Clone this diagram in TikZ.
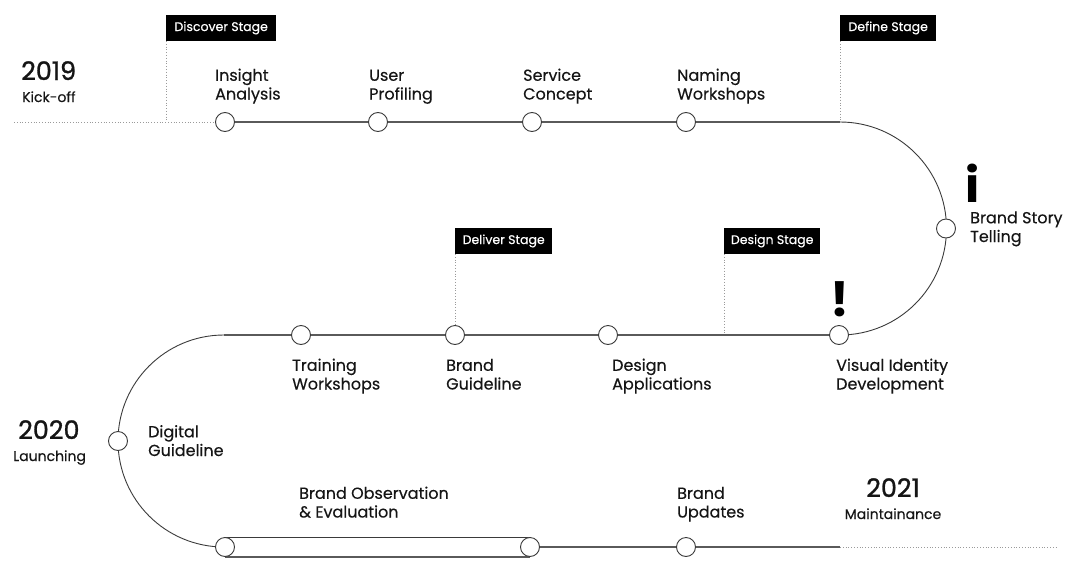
\documentclass[tikz,border=0pt]{standalone}
\usepackage{fontspec}
\setmainfont{Poppins}[FakeBold=0.35]
\newfontfamily\markfont{Poppins}
\newfontfamily\yearfont{Poppins}[FakeBold=1.1]
\usetikzlibrary{backgrounds}
\definecolor{ln}{HTML}{5A5A5A}
\definecolor{arcc}{HTML}{3A3A3A}
\definecolor{dt}{HTML}{9A9A9A}
\definecolor{tx}{HTML}{151515}
\begin{document}
\begin{tikzpicture}[x=1pt,y=-1pt,
  dot/.style={circle,draw=arcc,fill=white,line width=0.9pt,minimum size=19pt,inner sep=0pt},
  track/.style={draw=ln,line width=1.2pt},
  arctrack/.style={draw=arcc,line width=0.9pt},
  guide/.style={draw=dt,line width=0.8pt,dotted},
  stagebox/.style={fill=black,text=white,anchor=north west,inner sep=0pt,minimum height=25.5pt,font=\fontsize{12.5}{13}\selectfont},
  lbl/.style={anchor=base west,align=left,inner sep=0pt,text=tx,font=\fontsize{16}{18.7}\selectfont},
  yr/.style={anchor=base west,inner sep=0pt,text=tx,font=\yearfont\fontsize{25.5}{26}\selectfont},
  yrsub/.style={anchor=base west,inner sep=0pt,text=tx,font=\fontsize{14}{15}\selectfont},
  glyph/.style={anchor=base,inner sep=0pt,text=black,font=\markfont\bfseries\fontsize{48}{48}\selectfont}
]
\useasboundingbox (0,0) rectangle (1080,576);

% milestone circles
\node[dot] (c1) at (225,122) {};
\node[dot] (c2) at (378,122) {};
\node[dot] (c3) at (532,122) {};
\node[dot] (c4) at (686,122) {};
\node[dot] (c5) at (946,228.5) {};
\node[dot] (c6) at (839,335) {};
\node[dot] (c7) at (608,335) {};
\node[dot] (c8) at (455,335) {};
\node[dot] (c9) at (301,335) {};
\node[dot] (c10) at (118,441) {};
\node[dot] (c11) at (225,547) {};
\node[dot] (c12) at (530,547) {};
\node[dot] (c13) at (686,547) {};

% path coordinates
\coordinate (start) at (14,122);
\coordinate (tr) at (840,122);
\coordinate (mr) at (840,335);
\coordinate (ml) at (224,335);
\coordinate (bl) at (224,547);
\coordinate (br) at (840,547);
\coordinate (fin) at (1057,547);
\coordinate (dsgfoot) at (724,335);
\coordinate (discfoot) at (166,122);

% stage flags
\node[stagebox,minimum width=110pt] (disc) at (166,15) {Discover Stage};
\node[stagebox,minimum width=96pt] (defn) at (840,15) {Define Stage};
\node[stagebox,minimum width=97pt] (dlv) at (455,228) {Deliver Stage};
\node[stagebox,minimum width=96pt] (dsg) at (724,228) {Design Stage};

\begin{pgfonlayer}{background}
  \draw[guide] (start) -- (c1);
  \draw[guide] (disc.south west) -- (discfoot);
  \draw[guide] (defn.south west) -- (tr);
  \draw[guide] (dlv.south west) -- (c8.north);
  \draw[guide] (dsg.south west) -- (dsgfoot);
  \draw[track] (c1) -- (c2) -- (c3) -- (c4) -- (tr);
  \draw[arctrack] (tr) arc[start angle=-90,end angle=90,radius=106.5];
  \draw[track] (mr) -- (dsgfoot) -- (c7) -- (c8) -- (c9) -- (ml);
  \draw[arctrack] (ml) arc[start angle=-90,end angle=-270,radius=106];
  \draw[arctrack] (c11.north) -- (c12.north);
  \draw[track] (c11.south) -- (c12.south);
  \draw[track] (c12) -- (c13) -- (br);
  \draw[guide] (br) -- (fin);
\end{pgfonlayer}

% years
\node[yr] (y19) at (21,80) {2019};
\node[yrsub] (y19s) at (22,102) {Kick-off};
\node[yr] (y20) at (18,439) {2020};
\node[yrsub] (y20s) at (13,461) {Launching};
\node[yr,anchor=base] (y21) at (893,497) {2021};
\node[yrsub,anchor=base] (y21s) at (893,519) {Maintainance};

% labels (anchor = baseline of the last line)
\node[lbl] (l1) at (215,99.5) {Insight\\Analysis};
\node[lbl] (l2) at (369,99.5) {User\\Profiling};
\node[lbl] (l3) at (523,99.5) {Service\\Concept};
\node[lbl] (l4) at (677,99.5) {Naming\\Workshops};
\node[lbl] (l5) at (970,242) {Brand Story\\Telling};
\node[lbl] (l6) at (836,389.5) {Visual Identity\\Development};
\node[lbl] (l7) at (612,389.5) {Design\\Applications};
\node[lbl] (l8) at (446,389.5) {Brand\\Guideline};
\node[lbl] (l9) at (292,389.5) {Training\\Workshops};
\node[lbl] (l10) at (148,456) {Digital\\Guideline};
\node[lbl] (l11) at (299,517.5) {Brand Observation\\\& Evaluation};
\node[lbl] (l12) at (677,517.5) {Brand\\Updates};

% marks
\node[glyph] (mi) at (973,202) {i};
\node[glyph] (mx) at (840,316) {!};
\end{tikzpicture}
\end{document}
